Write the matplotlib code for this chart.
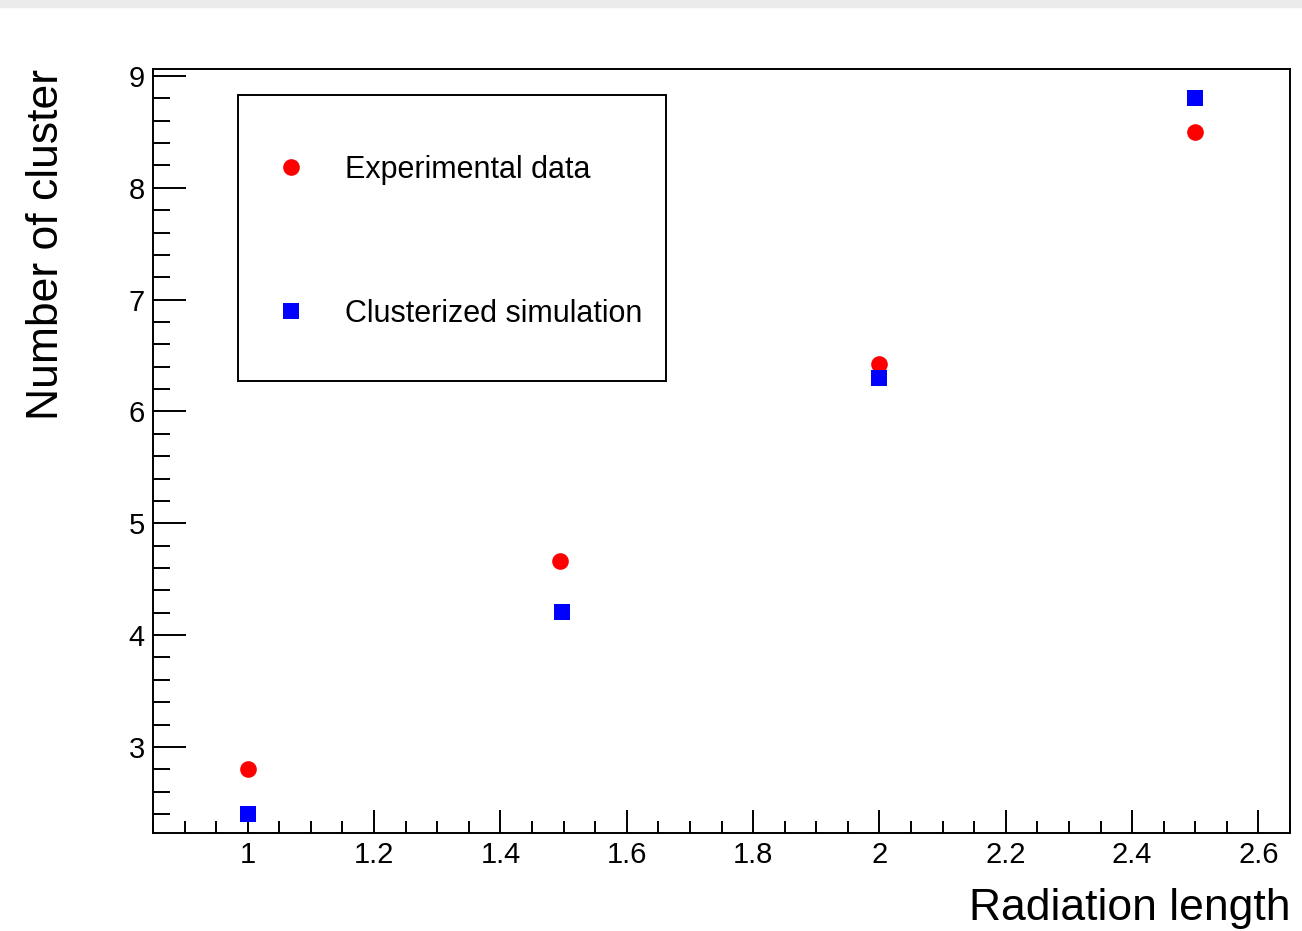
import matplotlib
matplotlib.use("Agg")
import matplotlib.pyplot as plt
from matplotlib.patches import Rectangle
from matplotlib.ticker import MultipleLocator

plt.rcParams['font.family'] = ['Liberation Sans', 'DejaVu Sans']

# radiation length values
x_exp = [1.0, 1.495, 2.0, 2.5]
y_exp = [2.80, 4.66, 6.42, 8.50]
x_sim = [1.0, 1.498, 2.0, 2.5]
y_sim = [2.40, 4.21, 6.30, 8.80]

fig = plt.figure(figsize=(13.02, 9.31), dpi=100)
ax = fig.add_axes([0.1175, 0.1053, 0.8733, 0.8206])

# light grey strip at the very top
fig.patches.append(Rectangle((0, 1 - 7/931), 1, 7/931, transform=fig.transFigure,
                             color='#ebebeb', zorder=0))

ax.plot(x_exp, y_exp, 'o', color='red', ms=12, mew=0, label='Experimental data')
ax.plot(x_sim, y_sim, 's', color='blue', ms=12, mew=0, label='Clusterized simulation')

ax.set_xlim(0.85, 2.65)
ax.set_ylim(2.23, 9.063)

ax.xaxis.set_major_locator(MultipleLocator(0.2))
ax.xaxis.set_minor_locator(MultipleLocator(0.05))
ax.yaxis.set_major_locator(MultipleLocator(1))
ax.yaxis.set_minor_locator(MultipleLocator(0.2))
ax.xaxis.set_major_formatter(matplotlib.ticker.FuncFormatter(lambda v, p: ('%.1f' % v).rstrip('0').rstrip('.')))

ax.tick_params(axis='both', which='both', direction='in', top=False, right=False,
               labelsize=21, width=1.4, pad=6)
ax.tick_params(axis='x', which='major', length=16.6)
ax.tick_params(axis='x', which='minor', length=8.3)
ax.tick_params(axis='y', which='major', length=23.8)
ax.tick_params(axis='y', which='minor', length=12.2)
for s in ax.spines.values():
    s.set_linewidth(1.4)

ax.set_xlabel('Radiation length', fontsize=32, ha='right')
ax.xaxis.set_label_coords(1.0, -0.072)
ax.set_ylabel('Number of cluster', fontsize=32, ha='right')
ax.yaxis.set_label_coords(-0.0756, 1.0)

# legend box
fig.patches.append(Rectangle((238/1302, 1 - 381/931), 428/1302, 286/931,
                             transform=fig.transFigure, fill=False,
                             edgecolor='black', linewidth=1.4, zorder=5))
leg = ax.legend(loc='upper left', bbox_to_anchor=(276/1302, 1 - 155/931),
                bbox_transform=fig.transFigure, frameon=False, fontsize=22,
                labelspacing=3.73, handletextpad=1.26, borderpad=0, borderaxespad=0,
                handlelength=1.0, markerscale=1.0)

fig.savefig('out.png', dpi=100)
